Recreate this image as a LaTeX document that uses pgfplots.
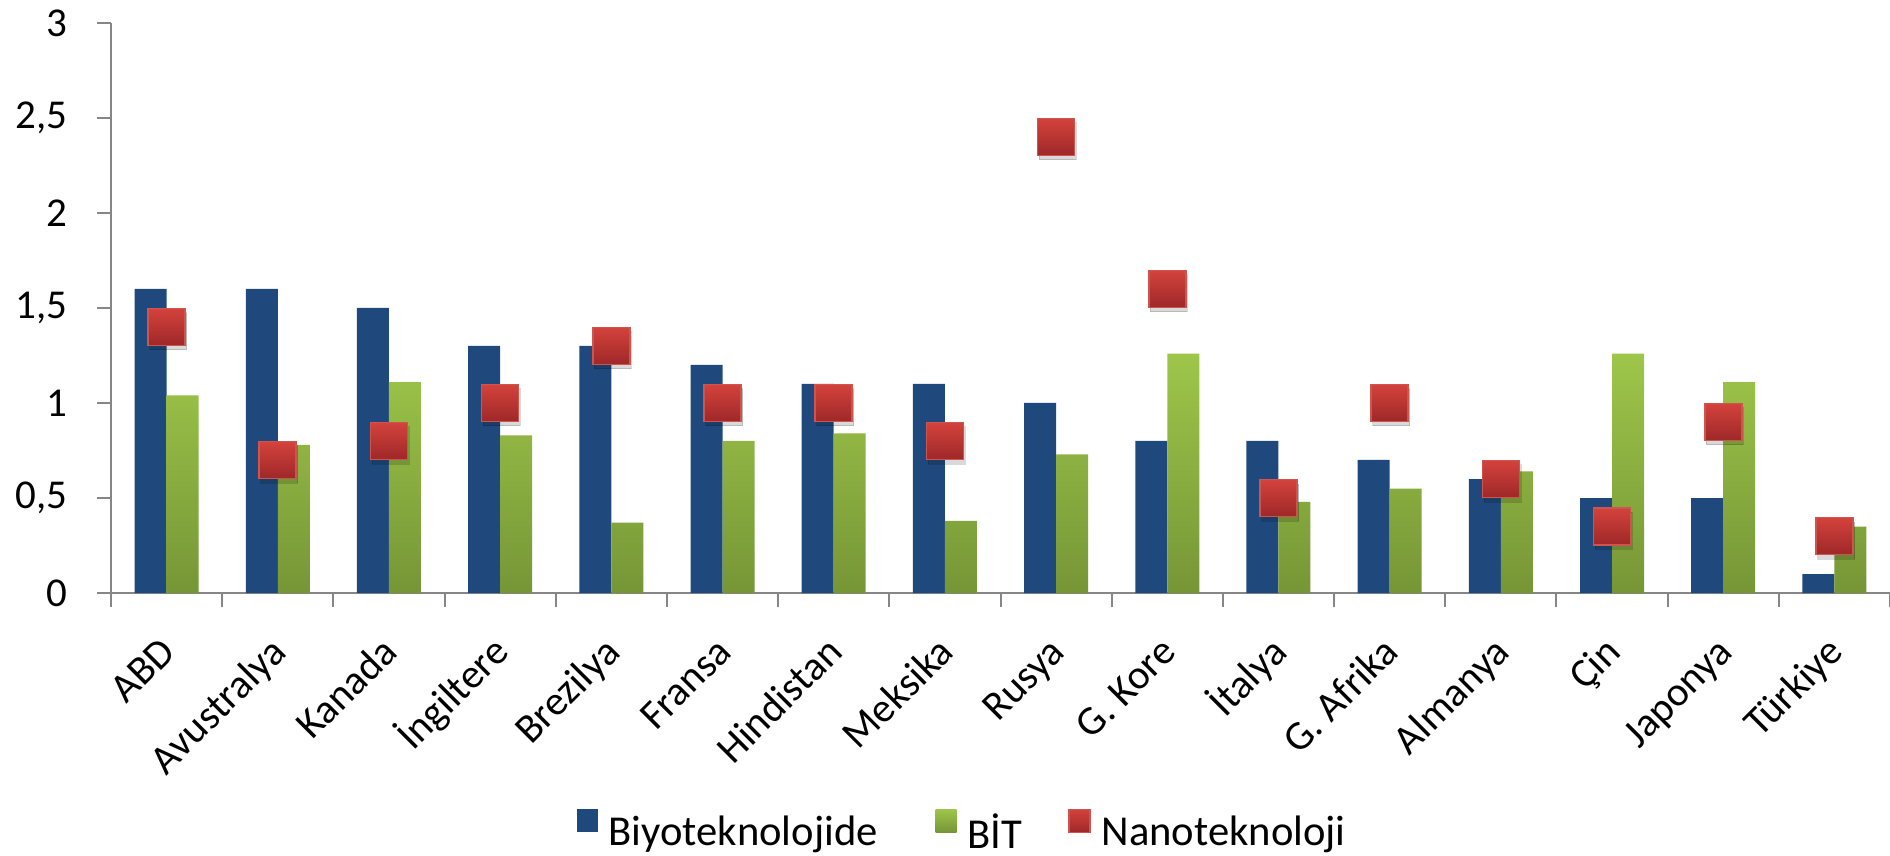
\documentclass[border=0pt]{standalone}
\usepackage{pgfplots}
\pgfplotsset{compat=1.18}
\usepackage{fontspec}
\setmainfont{Carlito}
\definecolor{bluebar}{RGB}{31,73,125}
\definecolor{greenT}{RGB}{158,198,74}
\definecolor{greenB}{RGB}{118,150,54}
\definecolor{redT}{RGB}{212,66,60}
\definecolor{redB}{RGB}{158,40,40}
\definecolor{redE}{RGB}{205,85,80}
\definecolor{axgray}{RGB}{134,134,134}
\pgfdeclareplotmark{shsq}{\shade[top color=redT,bottom color=redB,draw=redE,line width=0.8pt] (-9.25pt,-9.25pt) rectangle (9.25pt,9.25pt);}
\pgfdeclareplotmark{shadowsq}{\fill[black,opacity=0.15] (-9.25pt,-9.25pt) rectangle (9.25pt,9.25pt);}
\newcommand{\lblfont}{\fontsize{20.5}{24}\selectfont}
\newcommand{\legfont}{\fontsize{21.3}{25}\selectfont}
\begin{document}
\begin{tikzpicture}
\path[use as bounding box] (-55.5pt,-131.5pt) rectangle (889.5pt,296.5pt);
\begin{axis}[
  at={(0pt,0pt)}, anchor=south west,
  scale only axis, width=889.5pt, height=285pt,
  xmin=-0.5, xmax=15.5, ymin=0, ymax=3,
  axis x line*=bottom, axis y line*=left,
  axis line style={axgray, line width=1pt},
  tick style={axgray, line width=1pt},
  tick align=outside,
  major tick length=7pt,
  ytick={0,0.5,1,1.5,2,2.5,3},
  yticklabel style={font=\lblfont, anchor=east, inner sep=0pt, xshift=-14.5pt,
    /pgf/number format/.cd, use comma, fixed, assume math mode=true},
  xtick={-0.5,0.5,...,15.5},
  xticklabels={},
  extra x ticks={0,1,...,15},
  extra x tick labels={ABD,Avustralya,Kanada,İngiltere,Brezilya,Fransa,Hindistan,Meksika,Rusya,G. Kore,İtalya,G. Afrika,Almanya,Çin,Japonya,Türkiye},
  extra x tick style={major tick length=0pt,
    xticklabel style={font=\lblfont, xshift=5.5pt, yshift=-30.5pt, rotate=45, anchor=base east, inner sep=0pt}},
  clip=false,
  legend style={at={(0.479,-0.419)}, anchor=center, draw=none, fill=none,
    font=\legfont, legend columns=3,
    /tikz/every odd column/.append style={column sep=3.5pt},
    /tikz/column 2/.style={column sep=27pt},
    /tikz/column 4/.style={column sep=21pt}},
  legend cell align=left,
]
\addplot[ybar, bar width=16pt, bar shift=-8pt, fill=bluebar, draw=none,
  legend image code/.code={\fill[bluebar] (0pt,0pt) rectangle (10.5pt,11.5pt);}]
  coordinates {(0,1.6) (1,1.6) (2,1.5) (3,1.3) (4,1.3) (5,1.2) (6,1.1) (7,1.1) (8,1.0) (9,0.8) (10,0.8) (11,0.7) (12,0.6) (13,0.5) (14,0.5) (15,0.1)};
\addlegendentry{Biyoteknolojide}
\addplot[ybar, bar width=16pt, bar shift=8pt, top color=greenT, bottom color=greenB, draw=none,
  legend image code/.code={\shade[top color=greenT, bottom color=greenB] (0pt,0pt) rectangle (10.5pt,11.5pt);}]
  coordinates {(0,1.04) (1,0.78) (2,1.11) (3,0.83) (4,0.37) (5,0.80) (6,0.84) (7,0.38) (8,0.73) (9,1.26) (10,0.48) (11,0.55) (12,0.64) (13,1.26) (14,1.11) (15,0.35)};
\addlegendentry{BİT}
\addplot[only marks, mark=shadowsq, xshift=0.8pt, yshift=-2.2pt, forget plot]
  coordinates {(0,1.4) (1,0.7) (2,0.8) (3,1.0) (4,1.3) (5,1.0) (6,1.0) (7,0.8) (8,2.4) (9,1.6) (10,0.5) (11,1.0) (12,0.6) (13,0.35) (14,0.9) (15,0.3)};
\addplot[only marks, mark=shsq,
  legend image code/.code={\shade[top color=redT, bottom color=redB, draw=redE, line width=0.6pt] (0pt,0pt) rectangle (10.5pt,11.5pt);}]
  coordinates {(0,1.4) (1,0.7) (2,0.8) (3,1.0) (4,1.3) (5,1.0) (6,1.0) (7,0.8) (8,2.4) (9,1.6) (10,0.5) (11,1.0) (12,0.6) (13,0.35) (14,0.9) (15,0.3)};
\addlegendentry{Nanoteknoloji}
\end{axis}
\end{tikzpicture}
\end{document}
